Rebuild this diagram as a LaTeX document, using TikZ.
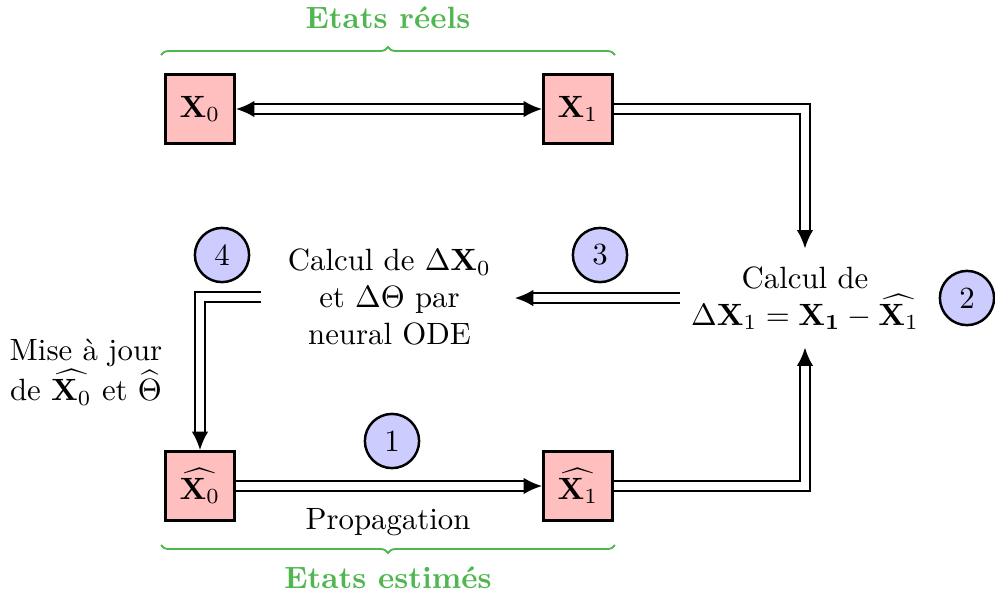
\documentclass[tikz,border=0pt]{standalone}
\usepackage{amsmath}
\usetikzlibrary{arrows.meta,decorations.pathreplacing}
\definecolor{brgreen}{RGB}{80,182,80}
\tikzset{
  state/.style={draw, thick, fill=red!25, minimum size=22.5pt, inner sep=0pt},
  stepnum/.style={draw, thick, circle, fill=blue!20, minimum size=17.6pt, inner sep=0pt},
  dbl/.style={draw, thick, double, double distance=2.4pt, -{Latex[length=6pt,width=5.4pt]}},
  brc/.style={draw=brgreen, semithick, decorate, decoration={brace, amplitude=2.6pt}},
  brlabel/.style={text=brgreen, font=\bfseries},
  txt/.style={align=center}
}
\begin{document}
\begin{tikzpicture}[x=0.3247pt, y=-0.3247pt]
\useasboundingbox (0,0) rectangle (995,597);
% states
\node[state] (x0) at (200,109) {$\mathbf{X}_0$};
\node[state] (x1) at (578,109) {$\mathbf{X}_1$};
\node[state] (hx0) at (200,486) {$\widehat{\mathbf{X}_0}$};
\node[state] (hx1) at (578,486) {$\widehat{\mathbf{X}_1}$};
% computation texts
\node[txt, inner xsep=7.5pt] (calc0) at (389.5,297) {Calcul de $\Delta\mathbf{X}_0$\\ et $\Delta\Theta$ par\\ neural ODE};
\node[txt, inner ysep=5.6pt] (calc2) at (805,298) {Calcul de\\ $\Delta\mathbf{X}_1 = \mathbf{X_1} - \widehat{\mathbf{X}_1}$};
\node[txt] (mise) at (86,372) {Mise à jour\\ de $\widehat{\mathbf{X}_0}$ et $\widehat{\Theta}$};
\node (prop) at (388,522) {Propagation};
% step numbers
\node[stepnum] (c1) at (392,441) {1};
\node[stepnum] (c2) at (967,298) {2};
\node[stepnum] (c3) at (600,255) {3};
\node[stepnum] (c4) at (222,255) {4};
% arrows
\draw[dbl, {Latex[length=6pt,width=5.4pt]}-{Latex[length=6pt,width=5.4pt]}] (x0) -- (x1);
\draw[dbl] (x1.east) -| (calc2.north);
\draw[dbl] (hx1.east) -| (calc2.south);
\draw[dbl] (calc2.west) -- (calc2.west -| calc0.east);
\draw[dbl] ([xshift=-1pt]calc0.west) -| (hx0.north);
\draw[dbl] (hx0) -- (hx1);
% braces
\coordinate (bt1) at (161,55);
\coordinate (bt2) at (615,55);
\coordinate (bb1) at (161,545);
\coordinate (bb2) at (615,545);
\draw[brc] (bt1) -- (bt2);
\draw[brc, decoration={mirror}] (bb1) -- (bb2);
\node[brlabel] (lreel) at (388,18) {Etats réels};
\node[brlabel] (lest) at (388,578) {Etats estimés};
\end{tikzpicture}
\end{document}
